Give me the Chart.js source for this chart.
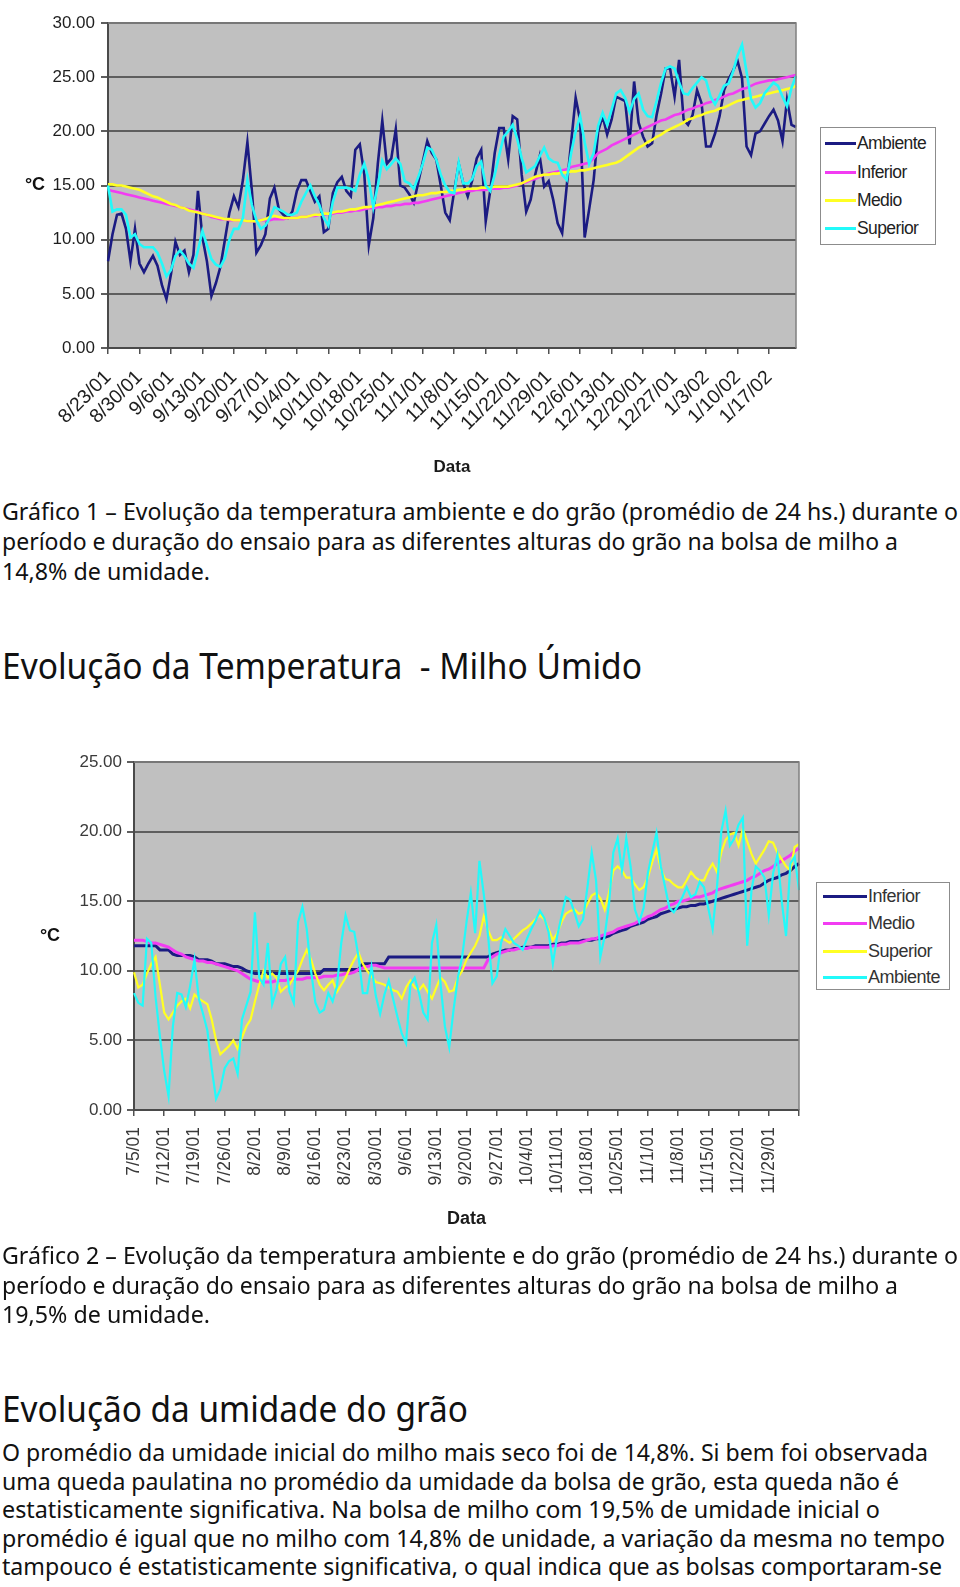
<!DOCTYPE html>
<html><head><meta charset="utf-8">
<script src="https://cdn.jsdelivr.net/npm/chart.js@4.4.1/dist/chart.umd.min.js"></script>
<style>
html,body{margin:0;padding:0;background:#fff}
body{width:960px;height:1587px;position:relative;overflow:hidden;font-family:"Noto Sans",sans-serif;color:#111}
canvas{position:absolute;left:0}
#c1{top:0}
#c2{top:730px}
.legend{position:absolute;box-sizing:border-box;background:#fff;border:1.5px solid #8c8c8c;font-family:"Liberation Sans",Arial,sans-serif}
.legend .row{position:absolute;left:0;height:20px;line-height:20px;white-space:nowrap}
.legend .row i{position:absolute;top:8.5px;height:3px}
.legend .row span{position:absolute;top:0}
#lg1{font-size:17.5px;letter-spacing:-0.6px}
#lg2{font-size:18px;letter-spacing:-0.5px}
.ln{position:absolute;left:2px;white-space:pre;transform-origin:0 0;font-size:23px;line-height:30px;color:#111}
.h{font-size:36px;line-height:40px}
</style>
</head>
<body>
<canvas id="c1" width="960" height="480"></canvas>
<canvas id="c2" width="960" height="510"></canvas>

<div class="legend" id="lg1" style="left:820px;top:127px;width:116px;height:118px;color:#222"></div>
<div class="legend" id="lg2" style="left:816px;top:882px;width:134px;height:108px;color:#333"></div>

<div class="ln" style="top:496px" data-r="958">Gráfico 1 – Evolução da temperatura ambiente e do grão (promédio de 24 hs.) durante o</div>
<div class="ln" style="top:526px" data-r="898">período e duração do ensaio para as diferentes alturas do grão na bolsa de milho a</div>
<div class="ln" style="top:556px" data-r="210">14,8% de umidade.</div>

<div class="ln h" style="top:646px" data-r="642">Evolução da Temperatura  - Milho Úmido</div>

<div class="ln" style="top:1240px" data-r="958">Gráfico 2 – Evolução da temperatura ambiente e do grão (promédio de 24 hs.) durante o</div>
<div class="ln" style="top:1270px" data-r="898">período e duração do ensaio para as diferentes alturas do grão na bolsa de milho a</div>
<div class="ln" style="top:1299px" data-r="210">19,5% de umidade.</div>

<div class="ln h" style="top:1389px" data-r="468">Evolução da umidade do grão</div>

<div class="ln" style="top:1437px" data-r="928">O promédio da umidade inicial do milho mais seco foi de 14,8%. Si bem foi observada</div>
<div class="ln" style="top:1466px" data-r="899">uma queda paulatina no promédio da umidade da bolsa de grão, esta queda não é</div>
<div class="ln" style="top:1494px" data-r="880">estatisticamente significativa. Na bolsa de milho com 19,5% de umidade inicial o</div>
<div class="ln" style="top:1523px" data-r="945">promédio é igual que no milho com 14,8% de unidade, a variação da mesma no tempo</div>
<div class="ln" style="top:1551px" data-r="942">tampouco é estatisticamente significativa, o qual indica que as bolsas comportaram-se</div>

<script>
// ---------- Chart 1 data (daily, 8/23/01 .. 1/23/02) ----------
const ticks1 = ['8/23/01','8/30/01','9/6/01','9/13/01','9/20/01','9/27/01','10/4/01','10/11/01','10/18/01','10/25/01','11/1/01','11/8/01','11/15/01','11/22/01','11/29/01','12/6/01','12/13/01','12/20/01','12/27/01','1/3/02','1/10/02','1/17/02'];
const series1Names = ['Ambiente','Inferior','Medio','Superior'];
const ambiente1 = [8.0,10.5,12.3,12.4,11.0,8.0,11.0,7.8,7.0,7.8,
8.5,7.6,5.8,4.5,6.8,9.8,8.6,9.0,7.0,8.6,
14.5,10.2,8.0,4.8,6.0,7.5,10.0,12.5,14.0,13.0,
15.5,19.0,14.5,8.8,9.5,10.5,13.8,14.8,12.8,12.3,
12.0,12.6,14.5,15.5,15.5,14.5,13.5,14.0,10.7,11.0,
14.3,15.3,15.8,14.5,14.0,18.3,18.8,16.0,9.5,12.0,
17.0,21.0,17.0,17.5,20.2,15.0,14.8,14.2,13.4,15.3,
17.2,19.1,18.0,17.4,15.0,12.5,11.8,14.5,17.0,15.2,
14.0,15.5,17.5,18.3,11.7,14.5,18.0,20.3,20.3,17.4,
21.4,21.1,16.0,12.6,13.7,16.0,17.7,14.9,15.4,13.7,
11.5,10.6,14.9,19.0,23.1,21.0,10.2,12.8,15.5,20.0,
21.4,19.7,21.1,23.2,23.0,22.8,18.8,24.6,20.8,19.5,
18.6,18.9,21.5,23.5,25.8,25.8,23.2,26.6,21.1,20.6,
21.5,23.8,22.6,18.6,18.6,19.8,21.4,23.8,24.8,25.6,
26.5,24.9,18.6,17.8,19.8,20.0,20.7,21.4,22.0,21.0,
19.1,22.9,20.6,20.4];
const inferior1 = [14.6,14.5,14.4,14.3,14.2,14.1,14.0,13.9,13.8,13.7,13.6,13.5,13.4,13.3,13.2,13.1,13.0,12.9,12.8,12.7,12.6,12.4,12.3,12.1,12.0,11.9,
11.9,11.8,11.8,11.8,11.8,11.7,11.7,11.7,11.8,11.8,11.8,11.9,11.9,11.9,12.0,12.0,12.0,12.1,12.1,12.2,
12.2,12.3,12.3,12.4,12.4,12.5,12.5,12.6,12.6,12.7,12.7,12.8,12.9,12.9,13.0,13.0,13.1,13.1,13.2,13.2,
13.3,13.3,13.4,13.4,13.5,13.6,13.7,13.8,13.9,14.0,14.1,14.2,14.3,14.4,14.5,14.5,14.6,14.6,14.6,14.7,14.7,14.7,14.8,14.8,
14.9,15.0,15.2,15.3,15.5,15.6,15.8,16.0,16.1,16.2,16.3,16.4,16.5,16.7,16.8,16.9,17.0,17.1,17.5,18.0,
18.2,18.4,18.7,18.9,19.1,19.3,19.5,19.7,19.9,20.2,20.4,20.6,20.8,21.0,21.1,21.3,21.5,21.6,21.8,22.0,
22.1,22.3,22.4,22.6,22.7,22.9,23.0,23.2,23.4,23.5,23.7,23.9,24.0,24.2,24.4,24.5,24.6,24.7,24.7,24.8,24.9,25.0,25.1,25.2];
const medio1 = [15.1,15.1,15.0,15.0,14.9,14.8,14.7,14.6,14.4,14.2,14.0,13.9,13.7,13.5,13.3,13.2,13.0,12.9,12.7,12.6,12.5,12.4,12.3,12.2,12.1,12.0,
11.9,11.9,11.8,11.8,11.8,11.7,11.7,11.7,11.8,11.9,12.1,12.2,12.1,12.0,12.0,12.0,12.0,12.1,12.1,12.2,
12.3,12.3,12.4,12.4,12.5,12.6,12.6,12.7,12.8,12.8,12.9,13.0,13.0,13.1,13.2,13.3,13.4,13.5,13.6,13.7,
13.8,13.9,14.0,14.1,14.1,14.2,14.3,14.3,14.4,14.4,14.5,14.5,14.6,14.6,14.7,14.7,14.7,14.8,14.8,14.8,14.9,14.9,14.9,14.9,
15.0,15.1,15.2,15.4,15.6,15.8,15.9,16.0,16.0,16.1,16.1,16.2,16.2,16.3,16.3,16.4,16.4,16.5,16.6,16.7,
16.8,16.9,17.0,17.1,17.3,17.6,17.9,18.2,18.5,18.7,19.0,19.2,19.5,19.7,20.0,20.2,20.4,20.6,20.8,21.1,
21.2,21.4,21.5,21.7,21.8,21.9,22.1,22.2,22.4,22.6,22.8,22.9,23.0,23.1,23.2,23.3,23.4,23.5,23.6,23.7,23.8,23.9,24.0,24.2];
const superior1 = [15.0,12.6,12.8,12.8,12.3,10.2,10.5,9.6,9.3,9.3,
9.3,8.8,7.8,6.6,7.2,8.5,9.0,8.5,7.8,7.4,
9.0,10.8,9.5,8.2,7.7,7.5,8.3,10.0,11.0,11.0,
12.0,15.5,13.2,11.8,11.0,11.3,12.0,13.0,12.8,12.6,
12.3,12.3,12.5,13.5,14.3,15.0,14.0,13.2,12.0,11.3,
13.5,14.8,14.8,14.8,14.7,14.5,16.0,17.0,15.5,13.0,
15.0,17.3,16.5,17.0,17.5,17.0,15.4,15.2,14.7,15.8,
17.0,18.5,18.3,17.4,16.0,15.0,14.4,14.3,17.1,15.2,
15.2,15.6,16.8,17.2,15.0,14.5,16.0,17.8,19.5,20.0,
20.6,19.3,17.5,16.2,16.5,16.8,17.7,18.5,17.5,17.2,
17.1,16.0,15.5,18.0,20.0,21.4,19.0,17.0,18.0,20.5,
21.7,20.6,22.0,23.5,23.8,23.1,21.8,23.0,23.5,22.0,
21.4,21.3,22.8,24.5,25.8,26.0,25.8,24.5,23.5,23.4,
24.0,24.5,25.0,24.7,23.2,22.5,23.3,24.2,24.4,25.5,
27.0,28.0,25.5,23.0,22.2,22.6,23.5,24.0,24.5,24.2,
23.2,22.3,24.0,25.1];
const yTicks1 = {min:0, max:30, step:5};

// ---------- Chart 2 data (daily, 7/5/01 .. 12/6/01) ----------
const ticks2 = ['7/5/01','7/12/01','7/19/01','7/26/01','8/2/01','8/9/01','8/16/01','8/23/01','8/30/01','9/6/01','9/13/01','9/20/01','9/27/01','10/4/01','10/11/01','10/18/01','10/25/01','11/1/01','11/8/01','11/15/01','11/22/01','11/29/01'];
const series2Names = ['Inferior','Medio','Superior','Ambiente'];
const inferior2 = [11.8,11.8,11.8,11.8,11.8,11.8,
11.5,11.5,11.5,
11.2,11.1,11.1,11.1,11.1,11.0,
10.8,10.8,10.8,10.7,
10.5,10.5,10.5,10.4,
10.3,10.3,10.2,
10.0,9.9,
9.8,9.8,9.8,9.8,9.8,9.8,9.8,9.8,9.8,9.8,9.8,9.8,9.8,9.8,9.8,9.8,
10.1,10.1,10.1,10.1,10.1,10.1,10.1,10.1,10.1,
10.5,10.5,10.5,10.5,10.5,10.5,
11.0,11.0,11.0,11.0,11.0,11.0,11.0,11.0,11.0,11.0,11.0,11.0,11.0,11.0,11.0,11.0,11.0,11.0,11.0,11.0,11.0,11.0,11.0,
11.0,11.2,11.3,11.4,11.5,11.5,11.6,11.6,11.7,11.7,11.7,11.8,11.8,11.8,11.8,11.9,11.9,12.0,12.0,
12.1,12.1,12.1,12.2,12.2,12.2,12.3,12.3,12.4,12.5,12.7,12.8,12.9,13.0,13.2,13.3,13.4,13.5,13.7,13.8,
13.9,14.1,14.2,14.3,14.4,14.5,14.6,14.6,14.7,14.7,14.8,14.8,14.9,15.0,15.1,15.2,15.3,15.4,15.5,15.6,
15.7,15.8,15.9,16.0,16.1,16.3,16.5,16.6,16.7,16.9,17.0,17.2,17.5,17.7];
const medio2 = [12.2,12.2,12.2,12.1,12.0,12.0,11.9,11.8,
11.7,11.5,11.3,11.2,11.0,10.9,10.8,10.7,
10.7,10.6,10.6,10.5,10.4,10.3,10.2,10.1,10.0,9.8,9.6,9.4,
9.3,9.2,9.2,9.2,9.2,9.3,9.3,9.3,9.4,9.4,9.4,9.4,9.5,9.5,9.5,9.5,9.6,9.6,
9.6,9.7,9.7,9.8,9.8,9.9,10.1,10.2,10.3,10.4,10.4,10.3,10.2,10.2,10.2,
10.2,10.2,10.2,10.2,10.2,10.2,10.2,10.2,10.2,10.2,10.2,10.2,10.2,10.2,10.2,10.2,10.2,10.2,10.2,10.2,10.2,
10.8,11.0,11.2,11.3,11.4,11.5,11.5,11.6,11.6,11.6,11.7,11.7,11.7,11.7,11.7,11.8,11.8,11.9,11.9,
12.0,12.0,12.0,12.1,12.2,12.3,12.3,12.5,12.6,12.7,12.8,13.0,13.1,13.2,13.3,13.4,13.6,13.7,13.9,14.0,
14.2,14.4,14.5,14.7,14.8,15.0,15.0,15.1,15.2,15.3,15.3,15.4,15.5,15.6,15.8,15.9,16.0,16.1,16.2,16.3,
16.4,16.5,16.7,16.8,17.0,17.2,17.3,17.5,17.7,17.9,18.1,18.3,18.6,18.8];
const superior2 = [9.9,8.8,9.0,9.8,10.5,11.0,9.0,7.0,6.5,7.0,
7.5,7.8,8.0,7.3,8.3,8.0,7.8,7.6,6.5,5.0,
4.0,4.3,4.6,5.0,4.4,5.2,6.0,6.5,7.8,9.0,
10.0,9.5,9.8,9.5,8.5,8.8,9.0,9.5,10.0,10.8,
11.5,10.8,9.8,9.0,8.6,9.0,9.3,8.5,9.0,9.5,
10.2,10.8,11.3,10.5,10.0,9.6,9.2,9.1,9.0,8.8,
8.6,8.5,8.0,8.8,9.3,8.8,8.6,9.0,8.5,8.0,
8.8,9.5,9.2,8.5,8.6,9.5,10.0,10.8,11.3,11.8,12.5,
13.9,12.9,12.2,12.2,12.4,12.2,12.0,12.3,12.6,12.9,
13.1,13.4,13.7,14.0,13.7,13.0,12.2,12.7,13.5,14.1,
14.3,14.4,14.1,14.2,14.8,15.4,15.6,15.2,14.4,15.6,
17.2,17.5,17.2,16.7,16.7,16.2,15.8,16.0,16.7,17.8,
18.7,17.3,16.6,16.5,16.2,16.0,16.0,16.5,17.1,16.7,
16.5,16.5,17.2,17.7,17.1,18.5,19.4,19.8,19.9,19.0,
20.2,19.3,18.4,17.7,18.2,18.7,19.3,19.2,18.5,18.0,
17.5,17.2,18.9,19.1];
const ambiente2 = [8.4,7.7,7.5,12.3,12.0,8.1,5.3,2.8,1.0,6.0,
8.4,8.3,7.4,8.9,10.8,8.0,6.9,5.7,3.0,0.8,
1.5,3.0,3.5,3.7,2.6,6.5,7.5,8.5,14.2,9.5,
9.0,12.0,7.6,8.6,10.5,11.0,8.5,7.7,13.5,14.6,
13.0,10.0,7.7,7.0,7.2,8.4,7.8,8.9,12.0,14.0,
12.9,12.8,11.0,8.4,8.4,10.3,8.2,6.9,8.3,9.3,
8.0,6.7,5.5,4.8,9.0,9.5,8.4,7.0,6.5,12.0,
13.3,9.0,6.0,4.5,7.2,9.5,11.0,13.5,15.6,12.7,17.9,
15.5,12.5,9.1,9.6,12.0,13.0,12.5,12.0,11.8,11.5,
12.3,13.0,13.6,14.3,13.8,12.8,10.5,12.5,13.9,15.3,
15.1,14.2,13.2,13.7,16.0,18.5,16.5,11.0,12.5,14.8,
18.5,19.5,17.2,19.5,17.5,14.4,13.5,14.5,17.0,18.5,
19.9,17.5,16.0,14.5,14.2,14.7,15.3,16.0,15.3,15.5,
16.4,16.0,14.5,13.0,16.0,20.0,21.5,19.0,19.5,20.5,
21.0,11.8,15.8,17.5,17.2,16.7,14.0,17.0,18.3,15.0,
12.5,17.7,18.2,15.8];
const yTicks2 = {min:0, max:25, step:5};

// ---------- colours ----------
const NAVY='#1b1b82', MAG='#f23cf2', YEL='#ffff24', CYAN='#22fafa';

function dayLabels(y,m,d,n){
  const out=[]; const t=new Date(y,m-1,d,12);
  for(let i=0;i<n;i++){ out.push((t.getMonth()+1)+'/'+t.getDate()+'/'+String(t.getFullYear()).slice(2)); t.setDate(t.getDate()+1); }
  return out;
}

const deco = {
  id:'deco',
  beforeDraw(c){ const a=c.chartArea, x=c.ctx; x.save(); x.fillStyle='#c0c0c0'; x.fillRect(a.left,a.top,a.right-a.left,a.bottom-a.top); x.restore(); },
  afterDraw(c,args,o){
    const a=c.chartArea, x=c.ctx; x.save();
    x.strokeStyle='#808080'; x.lineWidth=1.5; x.beginPath(); x.moveTo(a.left,a.top); x.lineTo(a.right,a.top); x.lineTo(a.right,a.bottom); x.stroke();
    x.font='bold 18px "Liberation Sans", Arial, sans-serif'; x.fillStyle='#111'; x.textAlign='center'; x.textBaseline='middle';
    x.fillText('°C', o.ux, (a.top+a.bottom)/2);
    x.restore();
  }
};
Chart.register(deco);
Chart.defaults.font.family='"Liberation Sans", Arial, sans-serif';

function ds(label,data,color,width,order){
  return {label,data,borderColor:color,backgroundColor:color,borderWidth:width,pointRadius:0,pointHoverRadius:0,tension:0,fill:false,order};
}

function makeChart(id,cfg){
  return new Chart(document.getElementById(id),{
    type:'line',
    data:{labels:cfg.labels,datasets:cfg.datasets},
    options:{
      responsive:false,animation:false,
      layout:{padding:cfg.padding},
      plugins:{legend:{display:false},tooltip:{enabled:false},deco:{ux:cfg.ux}},
      scales:{
        x:{
          type:'category',offset:false,
          afterFit:s=>{s.height=cfg.xh;},
          grid:{drawOnChartArea:false,drawTicks:true,tickLength:6,lineWidth:1.5,
                color:ctx=>(ctx.index%7===0?'#505050':'rgba(0,0,0,0)')},
          border:{display:true,color:'#4a4a4a',width:2},
          ticks:{autoSkip:false,maxRotation:cfg.rot,minRotation:cfg.rot,padding:cfg.xpad,color:cfg.tc,
                 font:{size:cfg.xfs},
                 callback:(v,i)=>(i%7===0 && cfg.ticks[i/7]) ? cfg.ticks[i/7] : ''},
          title:{display:true,text:'Data',color:'#1a1a1a',font:{size:cfg.tfs,weight:'bold'},padding:{top:0,bottom:cfg.tpad}}
        },
        y:{
          min:cfg.y.min,max:cfg.y.max,
          afterFit:s=>{s.width=cfg.yw;},
          grid:{color:'#5e5e5e',lineWidth:2,tickLength:7},
          border:{display:true,color:'#4a4a4a',width:2},
          ticks:{stepSize:cfg.y.step,padding:cfg.ypad,color:cfg.tc,font:{size:17},callback:v=>Number(v).toFixed(2)}
        }
      }
    }
  });
}

makeChart('c1',{
  labels:dayLabels(2001,8,23,ambiente1.length),
  ticks:ticks1,
  datasets:[
    ds(series1Names[0],ambiente1,NAVY,2.6,4),
    ds(series1Names[1],inferior1,MAG,2.6,3),
    ds(series1Names[2],medio1,YEL,2.6,2),
    ds(series1Names[3],superior1,CYAN,2.6,1)
  ],
  padding:{top:23,right:164,left:0,bottom:0},
  xh:132,yw:108,rot:45,xpad:12,xfs:19.5,tfs:17,tpad:2,ypad:6,tc:'#1e1e1e',ux:35,y:yTicks1
});

makeChart('c2',{
  labels:dayLabels(2001,7,5,inferior2.length),
  ticks:ticks2,
  datasets:[
    ds(series2Names[0],inferior2,NAVY,3,4),
    ds(series2Names[1],medio2,MAG,3,3),
    ds(series2Names[2],superior2,YEL,2.2,2),
    ds(series2Names[3],ambiente2,CYAN,2.2,1)
  ],
  padding:{top:32,right:161,left:0,bottom:0},
  xh:130,yw:134,rot:90,xpad:11,xfs:17.5,tfs:18,tpad:10,ypad:5,tc:'#3a3a3a',ux:50,y:yTicks2
});

// ---------- legends ----------
function legend(id,names,colors,rows,lineLeft,lineW,textLeft){
  const el=document.getElementById(id);
  names.forEach((n,i)=>{
    const r=document.createElement('div'); r.className='row'; r.style.top=(rows[i]-10)+'px'; r.style.width='100%';
    const l=document.createElement('i'); l.style.left=lineLeft+'px'; l.style.width=lineW+'px'; l.style.background=colors[i];
    const s=document.createElement('span'); s.style.left=textLeft+'px'; s.textContent=n;
    r.appendChild(l); r.appendChild(s); el.appendChild(r);
  });
}
legend('lg1',series1Names,[NAVY,MAG,YEL,CYAN],[15,44,72,100],4,31,36);
legend('lg2',series2Names,[NAVY,MAG,YEL,CYAN],[13,40,68,94],6,44,51);

// ---------- fit text lines to reference widths ----------
function fit(){
  document.querySelectorAll('.ln').forEach(el=>{
    el.style.transform='none';
    const w=el.getBoundingClientRect().width;
    const target=(+el.dataset.r)-el.offsetLeft;
    el.style.transform='scaleX('+(target/w)+')';
  });
}
fit();
if(document.fonts && document.fonts.ready) document.fonts.ready.then(fit);
</script>
</body></html>
